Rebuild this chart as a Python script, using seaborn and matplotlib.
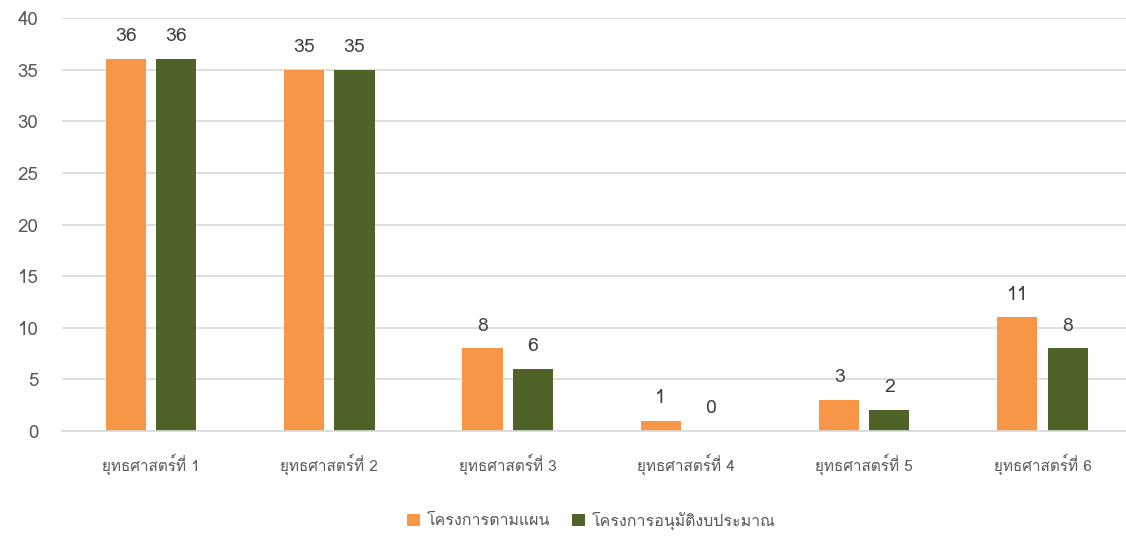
import matplotlib
matplotlib.use("Agg")
import matplotlib.pyplot as plt
from matplotlib import font_manager
from matplotlib.ft2font import FT2Font
import pandas as pd
import seaborn as sns

categories = ['ยุทธศาสตร์ที่ 1', 'ยุทธศาสตร์ที่ 2', 'ยุทธศาสตร์ที่ 3',
              'ยุทธศาสตร์ที่ 4', 'ยุทธศาสตร์ที่ 5', 'ยุทธศาสตร์ที่ 6']
series_names = ['โครงการตามแผน', 'โครงการอนุมัติงบประมาณ']
planned = [36, 35, 8, 1, 3, 11]
approved = [36, 35, 6, 0, 2, 8]
colors = ['#F79646', '#4F6228']

# find a font that has Thai glyphs
thai_font = None
for f in font_manager.fontManager.ttflist:
    try:
        if 0x0E22 in FT2Font(f.fname).get_charmap():
            thai_font = f.name
            break
    except Exception:
        pass

df = pd.DataFrame({'cat': categories * 2,
                   'series': [series_names[0]] * 6 + [series_names[1]] * 6,
                   'value': planned + approved})

sns.set_style('white')
fams = ([thai_font] if thai_font else []) + ['DejaVu Sans']
plt.rcParams['font.family'] = fams

fig = plt.figure(figsize=(11.26, 5.54), dpi=100)
# plot area runs slightly past the right edge, like the original
ax = fig.add_axes([0.055, 0.222, 0.950, 0.7455])
sns.barplot(data=df, x='cat', y='value', hue='series', palette=colors,
            width=0.564, gap=0.2, ax=ax, legend=True, saturation=1,
            linewidth=0)

for cont in ax.containers:
    ax.bar_label(cont, padding=10, fontsize=14, color='#404040')

ax.set_ylim(0, 40)
ax.set_yticks(range(0, 41, 5))
ax.set_xlim(-0.5, 5.5)
ax.yaxis.grid(True, color='#D9D9D9', linewidth=1.2)
ax.set_axisbelow(True)
for s in ['top', 'right', 'left']:
    ax.spines[s].set_visible(False)
ax.spines['bottom'].set_color('#D9D9D9')
ax.spines['bottom'].set_linewidth(1.2)
ax.tick_params(axis='y', labelsize=13.5, labelcolor='#595959', length=0, pad=17)
ax.tick_params(axis='x', labelsize=11, labelcolor='#595959', length=0, pad=16)
ax.set_xlabel('')
ax.set_ylabel('')

ax.legend(loc='upper center', bbox_to_anchor=(0.495, -0.16), ncol=2, frameon=False,
          fontsize=11.5, labelcolor='#595959', handlelength=0.8, handleheight=0.8,
          columnspacing=1.4, handletextpad=0.4)

fig.savefig('out.png', dpi=100)
